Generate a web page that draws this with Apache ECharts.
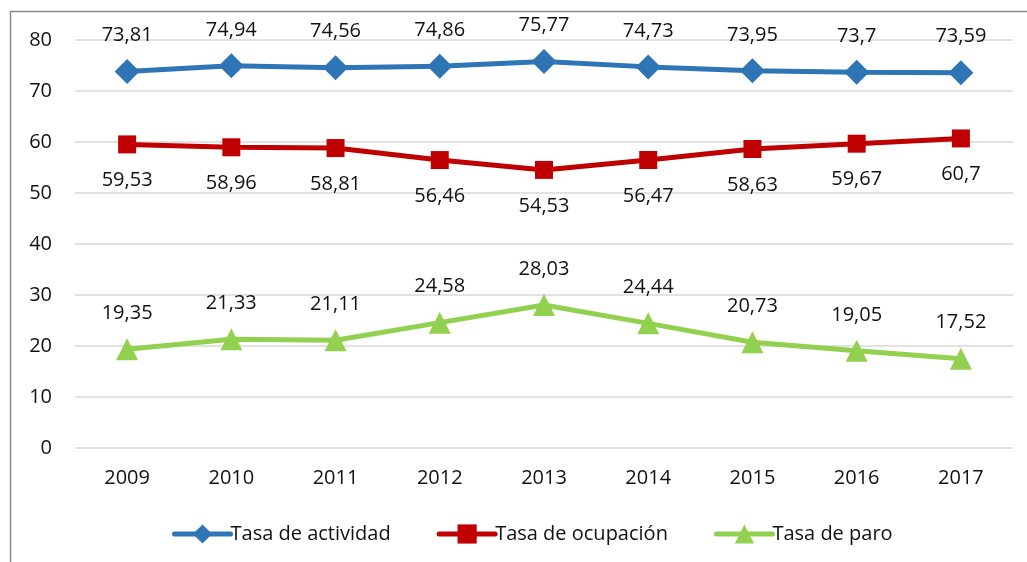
<!DOCTYPE html>
<html>
<head>
<meta charset="utf-8">
<script src="https://cdn.jsdelivr.net/npm/echarts@6/dist/echarts.min.js"></script>
<style>
  html, body { margin: 0; padding: 0; background: #fff; }
  #chart { width: 1027px; height: 562px; }
</style>
</head>
<body>
<div id="chart"></div>
<script>
var years = ["2009", "2010", "2011", "2012", "2013", "2014", "2015", "2016", "2017"];
var actividad = [73.81, 74.94, 74.56, 74.86, 75.77, 74.73, 73.95, 73.7, 73.59];
var ocupacion = [59.53, 58.96, 58.81, 56.46, 54.53, 56.47, 58.63, 59.67, 60.7];
var paro = [19.35, 21.33, 21.11, 24.58, 28.03, 24.44, 20.73, 19.05, 17.52];
var seriesNames = ["Tasa de actividad", "Tasa de ocupación", "Tasa de paro"];

var font = "'Open Sans', 'Liberation Sans', sans-serif";

function fmt(p) {
    return String(p.value).replace(".", ",");
}

function mkSeries(name, data, color, symbol, size, pos) {
    return {
        name: name,
        type: "line",
        data: data,
        symbol: symbol,
        symbolSize: size,
        lineStyle: {color: color, width: 5},
        itemStyle: {color: color},
        label: {
            show: true,
            position: pos,
            distance: 26 - size / 2,
            formatter: fmt,
            fontFamily: font,
            fontSize: 20,
            color: "#111"
        },
        emphasis: {disabled: true},
        animation: false
    };
}

var chart = echarts.init(document.getElementById("chart"));
chart.setOption({
    backgroundColor: "#fff",
    grid: {left: 75, right: 14, top: 40, bottom: 114, containLabel: false},
    graphic: [{
        type: "rect",
        shape: {x: 10.5, y: 11.5, width: 1200, height: 700},
        style: {fill: "none", stroke: "#8a8a8a", lineWidth: 1.5},
        silent: true
    }],
    legend: {
        data: seriesNames,
        left: 167,
        top: 519,
        itemWidth: 56,
        itemHeight: 24,
        itemGap: 46,
        lineStyle: {width: 5, cap: "round"},
        textStyle: {fontFamily: font, fontSize: 20, color: "#111", padding: [0, 0, 0, -5]}
    },
    xAxis: {
        type: "category",
        data: years,
        boundaryGap: true,
        axisLine: {show: false},
        axisTick: {show: false},
        axisLabel: {fontFamily: font, fontSize: 20, color: "#111", margin: 20}
    },
    yAxis: {
        type: "value",
        min: 0,
        max: 80,
        interval: 10,
        axisLine: {show: false},
        axisTick: {show: false},
        splitLine: {lineStyle: {color: "#d9d9d9", width: 1.5}},
        axisLabel: {fontFamily: font, fontSize: 20, color: "#111", margin: 23}
    },
    series: [
        mkSeries(seriesNames[0], actividad, "#2e75b6", "diamond", 25, "top"),
        mkSeries(seriesNames[1], ocupacion, "#c00000", "rect", 18, "bottom"),
        mkSeries(seriesNames[2], paro, "#92d050", "triangle", 22, "top")
    ]
});
</script>
</body>
</html>
